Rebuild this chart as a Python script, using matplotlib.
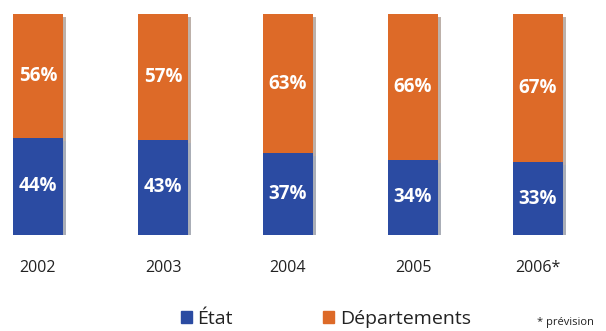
import matplotlib
matplotlib.use("Agg")
import matplotlib.pyplot as plt
import matplotlib.patheffects as pe
from matplotlib.patches import Patch

years = ["2002", "2003", "2004", "2005", "2006*"]
etat = [44, 43, 37, 34, 33]
departements = [56, 57, 63, 66, 67]

BLUE = "#2B4BA2"
ORANGE = "#DD6A28"
FONT = "Open Sans"

fig = plt.figure(figsize=(6.06, 3.31), dpi=100)
ax = fig.add_axes([0, (331-235)/331, 1, (235-14)/331])
ax.set_xlim(-38/125, (606-38)/125)
ax.set_ylim(0, 100)
ax.axis("off")

x = list(range(len(years)))
shadow = [pe.withSimplePatchShadow(offset=(2, -2), alpha=0.35), pe.Normal()]
ax.bar(x, departements, width=0.4, bottom=etat, color=ORANGE,
       path_effects=shadow, zorder=2)
ax.bar(x, etat, width=0.4, color=BLUE, path_effects=shadow, zorder=3)

for i in x:
    ax.text(i, etat[i] / 2, f"{etat[i]}%", ha="center", va="center",
            color="white", fontsize=13.5, fontweight="bold", family=FONT, zorder=5)
    ax.text(i, etat[i] + departements[i] / 2, f"{departements[i]}%", ha="center",
            va="center", color="white", fontsize=13.5, fontweight="bold",
            family=FONT, zorder=5)
    ax.text(i, -15, years[i], ha="center", va="center", color="#222222",
            fontsize=11.5, family=FONT, clip_on=False)

legend_y = 1 - 319/331
leg1 = fig.legend([Patch(color=BLUE)], ["État"], loc="center left",
                  bbox_to_anchor=(181/606, legend_y), frameon=False,
                  prop={"family": FONT, "size": 14}, handlelength=0.55,
                  handleheight=0.55, handletextpad=0.3, borderaxespad=0,
                  borderpad=0)
leg2 = fig.legend([Patch(color=ORANGE)], ["Départements"], loc="center left",
                  bbox_to_anchor=(323/606, legend_y), frameon=False,
                  prop={"family": FONT, "size": 14}, handlelength=0.55,
                  handleheight=0.55, handletextpad=0.35, borderaxespad=0,
                  borderpad=0)
for leg in (leg1, leg2):
    for t in leg.get_texts():
        t.set_color("#222222")

fig.text(565/606, 1 - 322/331, "* prévision", ha="center", va="center",
         fontsize=8, family=FONT, color="#222222")

fig.savefig("out.png", dpi=100)
